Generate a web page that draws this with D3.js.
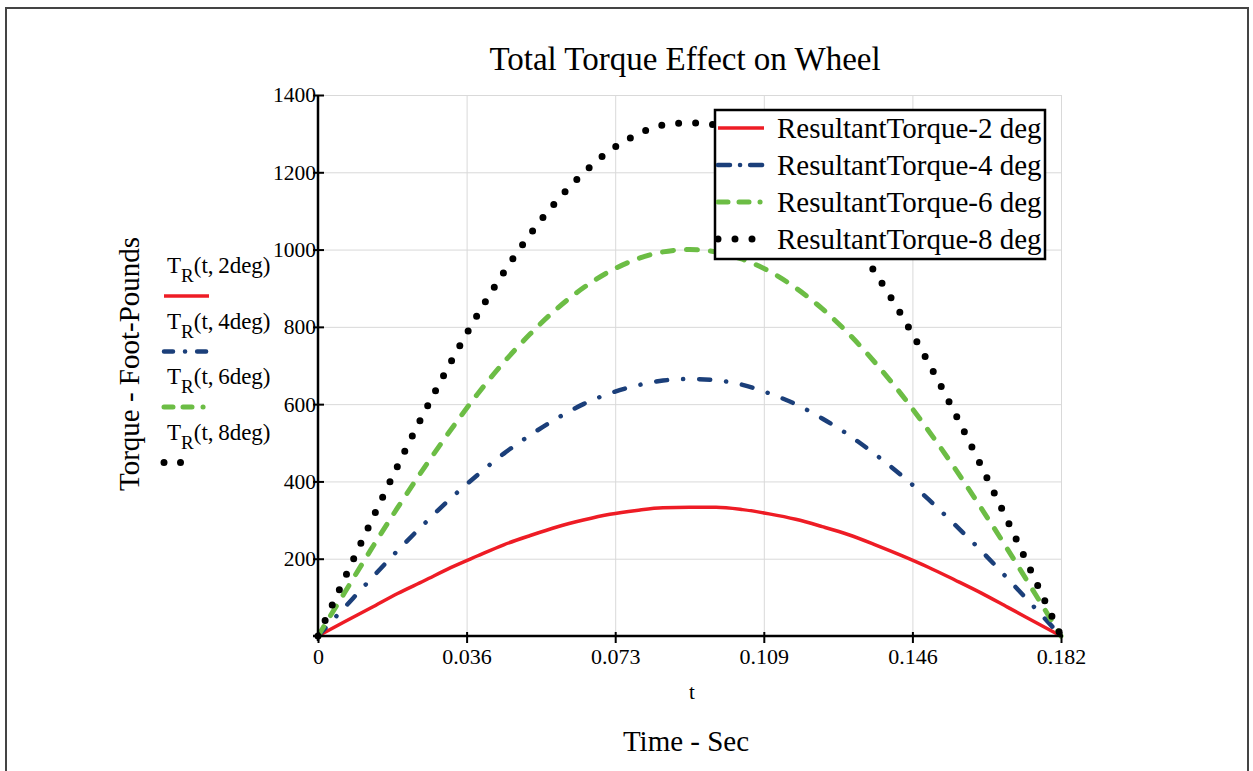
<!DOCTYPE html>
<html>
<head>
<meta charset="utf-8">
<script src="https://cdn.jsdelivr.net/npm/d3@7"></script>
<style>
  body { margin: 0; background: #fff; }
  text { font-family: "Liberation Serif", "Times New Roman", serif; fill: #000; }
  .grid line { stroke: #d9d9d9; stroke-width: 1; }
  .grid path { display: none; }
</style>
</head>
<body>
<svg id="chart"></svg>
<script>
// time samples (sec)
var timeSec = [0, 0.0065, 0.013, 0.0195, 0.026, 0.0325, 0.039, 0.0455, 0.052, 0.0585,
               0.065, 0.0715, 0.078, 0.0845, 0.091, 0.0975, 0.104, 0.1105, 0.117, 0.1235,
               0.13, 0.1365, 0.143, 0.1495, 0.156, 0.1625, 0.169, 0.1755, 0.182];

// torque, foot-pounds
var torque2deg = [0, 37, 73, 110, 143, 177, 207, 236, 260, 282, 300, 315, 325, 332, 333,
                  333, 327, 316, 302, 283, 262, 236, 208, 178, 145, 111, 74, 37, 0];
var torque4deg = [0, 74, 148, 221, 290, 356, 416, 472, 520, 563, 600, 628, 648, 661, 665,
                  662, 650, 628, 600, 563, 520, 470, 415, 354, 288, 220, 148, 74, 0];
var torque6deg = [0, 112, 224, 332, 435, 533, 625, 708, 782, 847, 901, 944, 975, 994, 1000,
                  994, 975, 944, 901, 847, 782, 707, 624, 532, 434, 330, 223, 112, 0];
var torque8deg = [0, 149, 296, 440, 578, 708, 830, 941, 1040, 1126, 1198, 1256, 1297, 1322, 1328,
                  1322, 1297, 1255, 1198, 1126, 1040, 940, 829, 708, 577, 439, 296, 149, 0];

var seriesNames = ["ResultantTorque-2 deg", "ResultantTorque-4 deg",
                   "ResultantTorque-6 deg", "ResultantTorque-8 deg"];
var sideLabels = ["2deg", "4deg", "6deg", "8deg"];

var xTicks = [0, 0.0364, 0.0728, 0.1092, 0.1456, 0.182];
var xTickLabels = ["0", "0.036", "0.073", "0.109", "0.146", "0.182"];
var yTicks = [200, 400, 600, 800, 1000, 1200, 1400];

var W = 1253, H = 771;
var margin = {top: 95, left: 318},
    w = 743, h = 541;
var serif = "Liberation Serif, Times New Roman, serif";

// line styles
var styles = [
  {color: "#ee1c25", width: 3.5, dash: null, legDash: null, sideDash: null},
  {color: "#1b3f7a", width: 4.5, dash: "11,16,0.1,16", legDash: "12,10,0.1,10,12", sideDash: "9,12,0.1,12,9"},
  {color: "#6cbd45", width: 5, dash: "11,13", legDash: "10,11,10,11,0.1,30", sideDash: "9,10,9,11,0.1,30"},
  {color: "#000000", width: 7, dash: "0,17", legDash: "0,17", sideDash: "0,16.5"}
];

var allSeries = [torque2deg, torque4deg, torque6deg, torque8deg];

var svg = d3.select("#chart")
    .attr("width", W)
    .attr("height", H);

// outer frame
svg.append("rect")
   .attr("x", 6).attr("y", 8)
   .attr("width", 1242).attr("height", 800)
   .attr("fill", "none")
   .attr("stroke", "#444")
   .attr("stroke-width", 2);

var g = svg.append("g")
   .attr("transform", "translate(" + margin.left + "," + margin.top + ")");

var xScale = d3.scaleLinear().domain([0, 0.182]).range([0, w]);
var yScale = d3.scaleLinear().domain([0, 1400]).range([h, 0]);

// gridlines
g.append("g")
 .attr("class", "grid")
 .call(d3.axisLeft(yScale).tickValues(yTicks).tickSize(-w).tickFormat(""));
g.append("g")
 .attr("class", "grid")
 .attr("transform", "translate(0," + h + ")")
 .call(d3.axisBottom(xScale).tickValues(xTicks.slice(1)).tickSize(-h).tickFormat(""));

// curves
var line = d3.line()
    .x(function(d, i) { return xScale(timeSec[i]); })
    .y(function(d) { return yScale(d); })
    .curve(d3.curveMonotoneX);

allSeries.forEach(function(vals, k) {
  var st = styles[k];
  g.append("path")
   .datum(vals)
   .attr("d", line)
   .attr("fill", "none")
   .attr("stroke", st.color)
   .attr("stroke-width", st.width)
   .attr("stroke-linecap", "round")
   .attr("stroke-linejoin", "round")
   .attr("stroke-dasharray", st.dash);
});

// axes
var yAxis = g.append("g")
   .call(d3.axisLeft(yScale).tickValues(yTicks).tickSize(5).tickPadding(0)
         .tickFormat(d3.format("d")))
   .attr("font-family", serif)
   .attr("font-size", 21.5);
yAxis.select(".domain").remove();
yAxis.selectAll(".tick line").attr("x1", 6).attr("x2", -5).attr("stroke", "#000").attr("stroke-width", 2);
yAxis.selectAll(".tick text").attr("x", -2);

var xAxis = g.append("g")
   .attr("transform", "translate(0," + h + ")")
   .call(d3.axisBottom(xScale).tickValues(xTicks).tickSize(7).tickPadding(0)
         .tickFormat(function(d, i) { return xTickLabels[i]; }))
   .attr("font-family", serif)
   .attr("font-size", 22);
xAxis.select(".domain").remove();
xAxis.selectAll(".tick line").attr("y1", -4).attr("y2", 7).attr("stroke", "#000").attr("stroke-width", 2);
xAxis.selectAll(".tick text")
     .attr("y", 28)
     .attr("dy", null);

// axis lines
g.append("line")
 .attr("x1", -5).attr("x2", w + 2)
 .attr("y1", h).attr("y2", h)
 .attr("stroke", "#000").attr("stroke-width", 2.5);
g.append("line")
 .attr("x1", 0).attr("x2", 0)
 .attr("y1", 0).attr("y2", h + 5)
 .attr("stroke", "#000").attr("stroke-width", 2.5);

// titles
svg.append("text")
   .attr("x", 685).attr("y", 70)
   .attr("text-anchor", "middle")
   .style("font-size", "33px")
   .text("Total Torque Effect on Wheel");

svg.append("text")
   .attr("x", 692).attr("y", 699)
   .attr("text-anchor", "middle")
   .style("font-size", "21px")
   .text("t");

svg.append("text")
   .attr("x", 686).attr("y", 751)
   .attr("text-anchor", "middle")
   .style("font-size", "29px")
   .text("Time - Sec");

svg.append("text")
   .attr("transform", "translate(139,364)rotate(-90)")
   .attr("text-anchor", "middle")
   .style("font-size", "29px")
   .text("Torque - Foot-Pounds");

// side legend (T_R(t, Ndeg))
var side = svg.append("g");
sideLabels.forEach(function(lab, k) {
  var st = styles[k];
  var by = 273 + k * 55.5;
  var t = side.append("text")
     .attr("x", 167).attr("y", by)
     .style("font-size", "23px");
  t.append("tspan").text("T");
  t.append("tspan").attr("dy", 9).style("font-size", "19px").text("R");
  t.append("tspan").attr("dy", -9).text("(t,\u2009" + lab + ")");

  var ly = by + 23;
  side.append("line")
     .attr("x1", 164).attr("x2", k === 0 ? 209 : (k === 3 ? 197 : 207))
     .attr("y1", ly).attr("y2", ly)
     .attr("stroke", st.color)
     .attr("stroke-width", st.width)
     .attr("stroke-linecap", k === 0 ? "butt" : "round")
     .attr("stroke-dasharray", st.sideDash);
});

// boxed legend
var leg = svg.append("g");
leg.append("rect")
   .attr("x", 715).attr("y", 110)
   .attr("width", 330).attr("height", 149)
   .attr("fill", "#fff")
   .attr("stroke", "#000")
   .attr("stroke-width", 2.5);
var legClip = svg.append("clipPath").attr("id", "legclip");
legClip.append("rect").attr("x", 716).attr("y", 111).attr("width", 328).attr("height", 147);
var legInner = leg.append("g").attr("clip-path", "url(#legclip)");
seriesNames.forEach(function(name, k) {
  var st = styles[k];
  var cy = 128 + k * 37;
  legInner.append("line")
     .attr("x1", 718).attr("x2", 764)
     .attr("y1", cy).attr("y2", cy)
     .attr("stroke", st.color)
     .attr("stroke-width", st.width)
     .attr("stroke-linecap", k === 0 ? "butt" : "round")
     .attr("stroke-dasharray", st.legDash);
  legInner.append("text")
     .attr("x", 777).attr("y", cy + 10)
     .style("font-size", "29px")
     .text(name);
});
</script>
</body>
</html>
